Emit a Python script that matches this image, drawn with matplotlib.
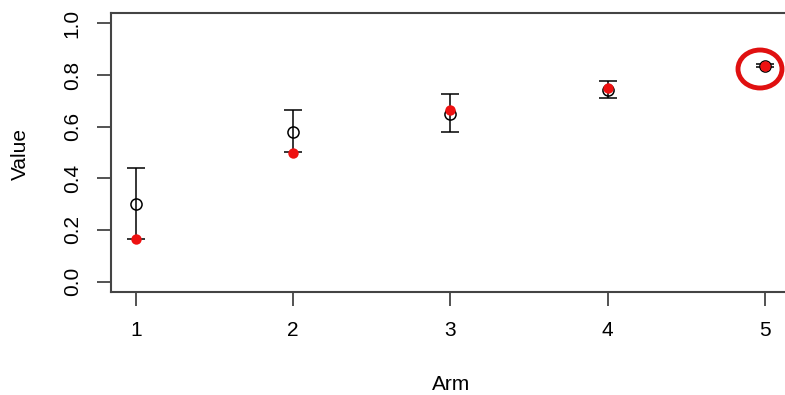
import matplotlib
matplotlib.use("Agg")
import matplotlib.pyplot as plt
from matplotlib.patches import Ellipse
import numpy as np

plt.rcParams['font.family'] = ['Liberation Sans', 'DejaVu Sans']

arms = [1, 2, 3, 4, 5]
est = [0.300, 0.578, 0.650, 0.742, 0.836]
lower = [0.166, 0.502, 0.579, 0.710, 0.831]
upper = [0.440, 0.664, 0.726, 0.776, 0.841]
truth = [0.166, 0.500, 0.663, 0.750, 0.833]

W, H = 785, 395
fig = plt.figure(figsize=(W / 100, H / 100), dpi=100)
px_per = (765 - 136) / 4
x0 = 0.84
x1 = 5.16
left_px = 136 - (1 - x0) * px_per
right_px = 765 + (x1 - 5) * px_per
top_px, bot_px = 13, 292
ax = fig.add_axes([left_px / W, (H - bot_px) / H, (right_px - left_px) / W, (bot_px - top_px) / H])

axcol = '#444444'
ax.errorbar(arms, est,
            yerr=[np.array(est) - np.array(lower), np.array(upper) - np.array(est)],
            fmt='none', ecolor='black', elinewidth=1.1, capsize=6.5, capthick=1.1, zorder=2)
ax.plot(arms, est, 'o', mfc='none', mec='black', ms=8, mew=1.1, zorder=3)
ax.plot(arms, truth, 'o', color='#ee1111', ms=7.5, mec='none', zorder=4)

ax.set_xlim(x0, x1)
ax.set_ylim(-0.04, 1.04)
ax.set_xticks(arms)
ax.set_yticks([0.0, 0.2, 0.4, 0.6, 0.8, 1.0])
ax.set_yticklabels(['0.0', '0.2', '0.4', '0.6', '0.8', '1.0'], rotation=90, va='center')
ax.tick_params(axis='both', length=10, width=1.3, color=axcol, labelsize=15, pad=11)
for name, s in ax.spines.items():
    s.set_color(axcol)
    s.set_linewidth(1.5)
ax.spines['right'].set_visible(False)

ax.set_xlabel('Arm', fontsize=15, va='center')
ax.xaxis.set_label_coords((451 - left_px) / (right_px - left_px), -(384 - bot_px) / (bot_px - top_px))
ax.set_ylabel('Value', fontsize=15, va='center')
ax.yaxis.set_label_coords(-(left_px - 20.5) / (right_px - left_px), 0.5 - (154 - 152.5) / (bot_px - top_px))

ell = Ellipse((760 / W, 1 - 69 / H), 44 / W, 38 / H, transform=fig.transFigure,
              fill=False, edgecolor='#e01010', linewidth=3.5, zorder=10)
fig.patches.append(ell)

fig.savefig('out.png', dpi=100)
